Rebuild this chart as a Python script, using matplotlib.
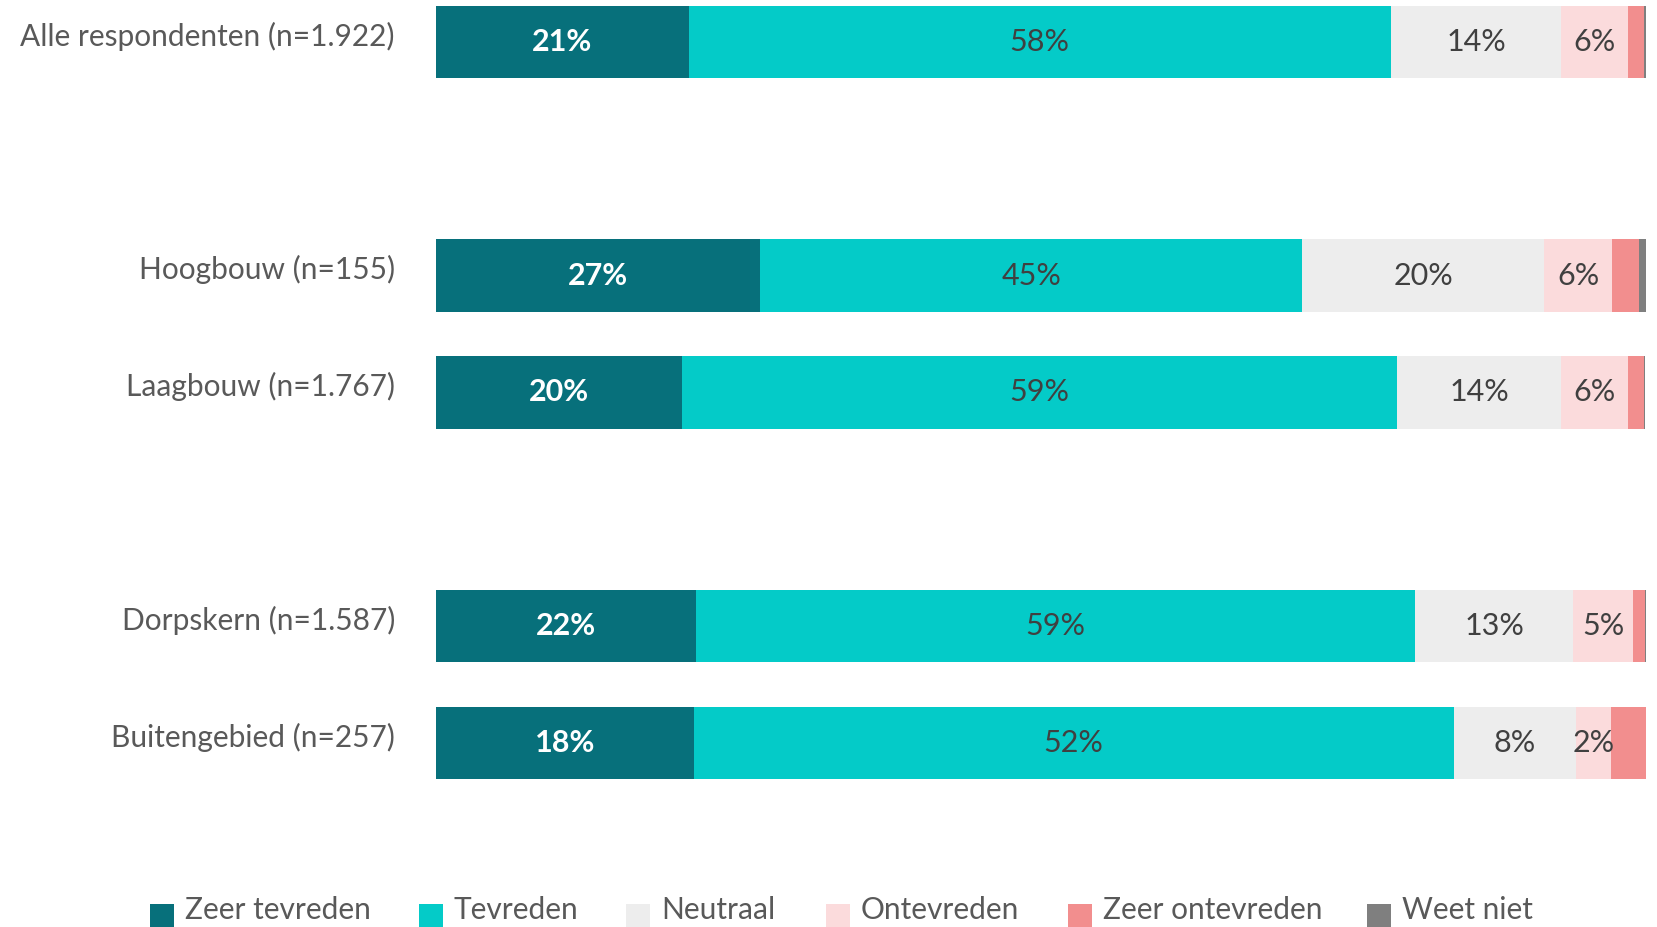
import matplotlib
matplotlib.use("Agg")
import matplotlib.pyplot as plt
from matplotlib.patches import Rectangle

categories = ["Alle respondenten (n=1.922)", "Hoogbouw (n=155)", "Laagbouw (n=1.767)",
              "Dorpskern (n=1.587)", "Buitengebied (n=257)"]
row_pos = [0, 2, 3, 5, 6]

series_names = ["Zeer tevreden", "Tevreden", "Neutraal", "Ontevreden", "Zeer ontevreden", "Weet niet"]
colors = ["#07707B", "#04CBC8", "#EDEDED", "#FBDBDC", "#F28E8E", "#7F7F7F"]

# bar shares (%)
zeer_tevreden = [20.9, 26.8, 20.3, 21.5, 21.3]
tevreden = [58.0, 44.8, 59.1, 59.4, 62.8]
neutraal = [14.1, 20.0, 13.6, 13.1, 10.1]
ontevreden = [5.5, 5.6, 5.5, 4.9, 2.9]
zeer_ontevreden = [1.3, 2.2, 1.3, 1.0, 2.9]
weet_niet = [0.2, 0.6, 0.1, 0.2, 0.0]

# printed data labels
labels_zeer_tevreden = ["21%", "27%", "20%", "22%", "18%"]
labels_tevreden = ["58%", "45%", "59%", "59%", "52%"]
labels_neutraal = ["14%", "20%", "14%", "13%", "8%"]
labels_ontevreden = ["6%", "6%", "6%", "5%", "2%"]

series = [zeer_tevreden, tevreden, neutraal, ontevreden, zeer_ontevreden, weet_niet]
series_labels = [labels_zeer_tevreden, labels_tevreden, labels_neutraal, labels_ontevreden, None, None]

FONT = "Lato"
W, H = 1658, 927
fig = plt.figure(figsize=(W / 100, H / 100), dpi=100)
ax_bottom_px = 800
ax = fig.add_axes([436 / W, 1 - ax_bottom_px / H, (1646 - 436) / W, ax_bottom_px / H])
unit = (743 - 42) / 6
ax.set_ylim((ax_bottom_px - 42) / unit, -42 / unit)
ax.set_xlim(0, 100)
ax.axis("off")

left = [0.0] * len(categories)
for si, (vals, col) in enumerate(zip(series, colors)):
    ax.barh(row_pos, vals, left=left, height=0.62, color=col, edgecolor="none")
    labs = series_labels[si]
    if labs is not None:
        for i, (v, l, t) in enumerate(zip(vals, left, labs)):
            if si == 0:
                ax.text(l + v / 2, row_pos[i], t, ha="center", va="center", color="white",
                        fontsize=22, fontweight="bold", family=FONT)
            else:
                ax.text(l + v / 2, row_pos[i], t, ha="center", va="center", color="#404040",
                        fontsize=22, family=FONT)
    left = [a + b for a, b in zip(left, vals)]

for cat, p in zip(categories, row_pos):
    ax.text(-41 / 1210 * 100, p - 0.05, cat, ha="right", va="center", color="#595959",
            fontsize=21.5, family=FONT, clip_on=False)

# legend
sq_x = [150, 419, 626, 826, 1068, 1367]
for name, col, x in zip(series_names, colors, sq_x):
    fig.patches.append(Rectangle((x / W, 0), 24 / W, 23 / H, transform=fig.transFigure,
                                 facecolor=col, edgecolor="none"))
    fig.text((x + 35) / W, 1 - 910 / H, name, ha="left", va="center", color="#595959",
             fontsize=21.5, family=FONT)

fig.savefig("out.png", dpi=100)
